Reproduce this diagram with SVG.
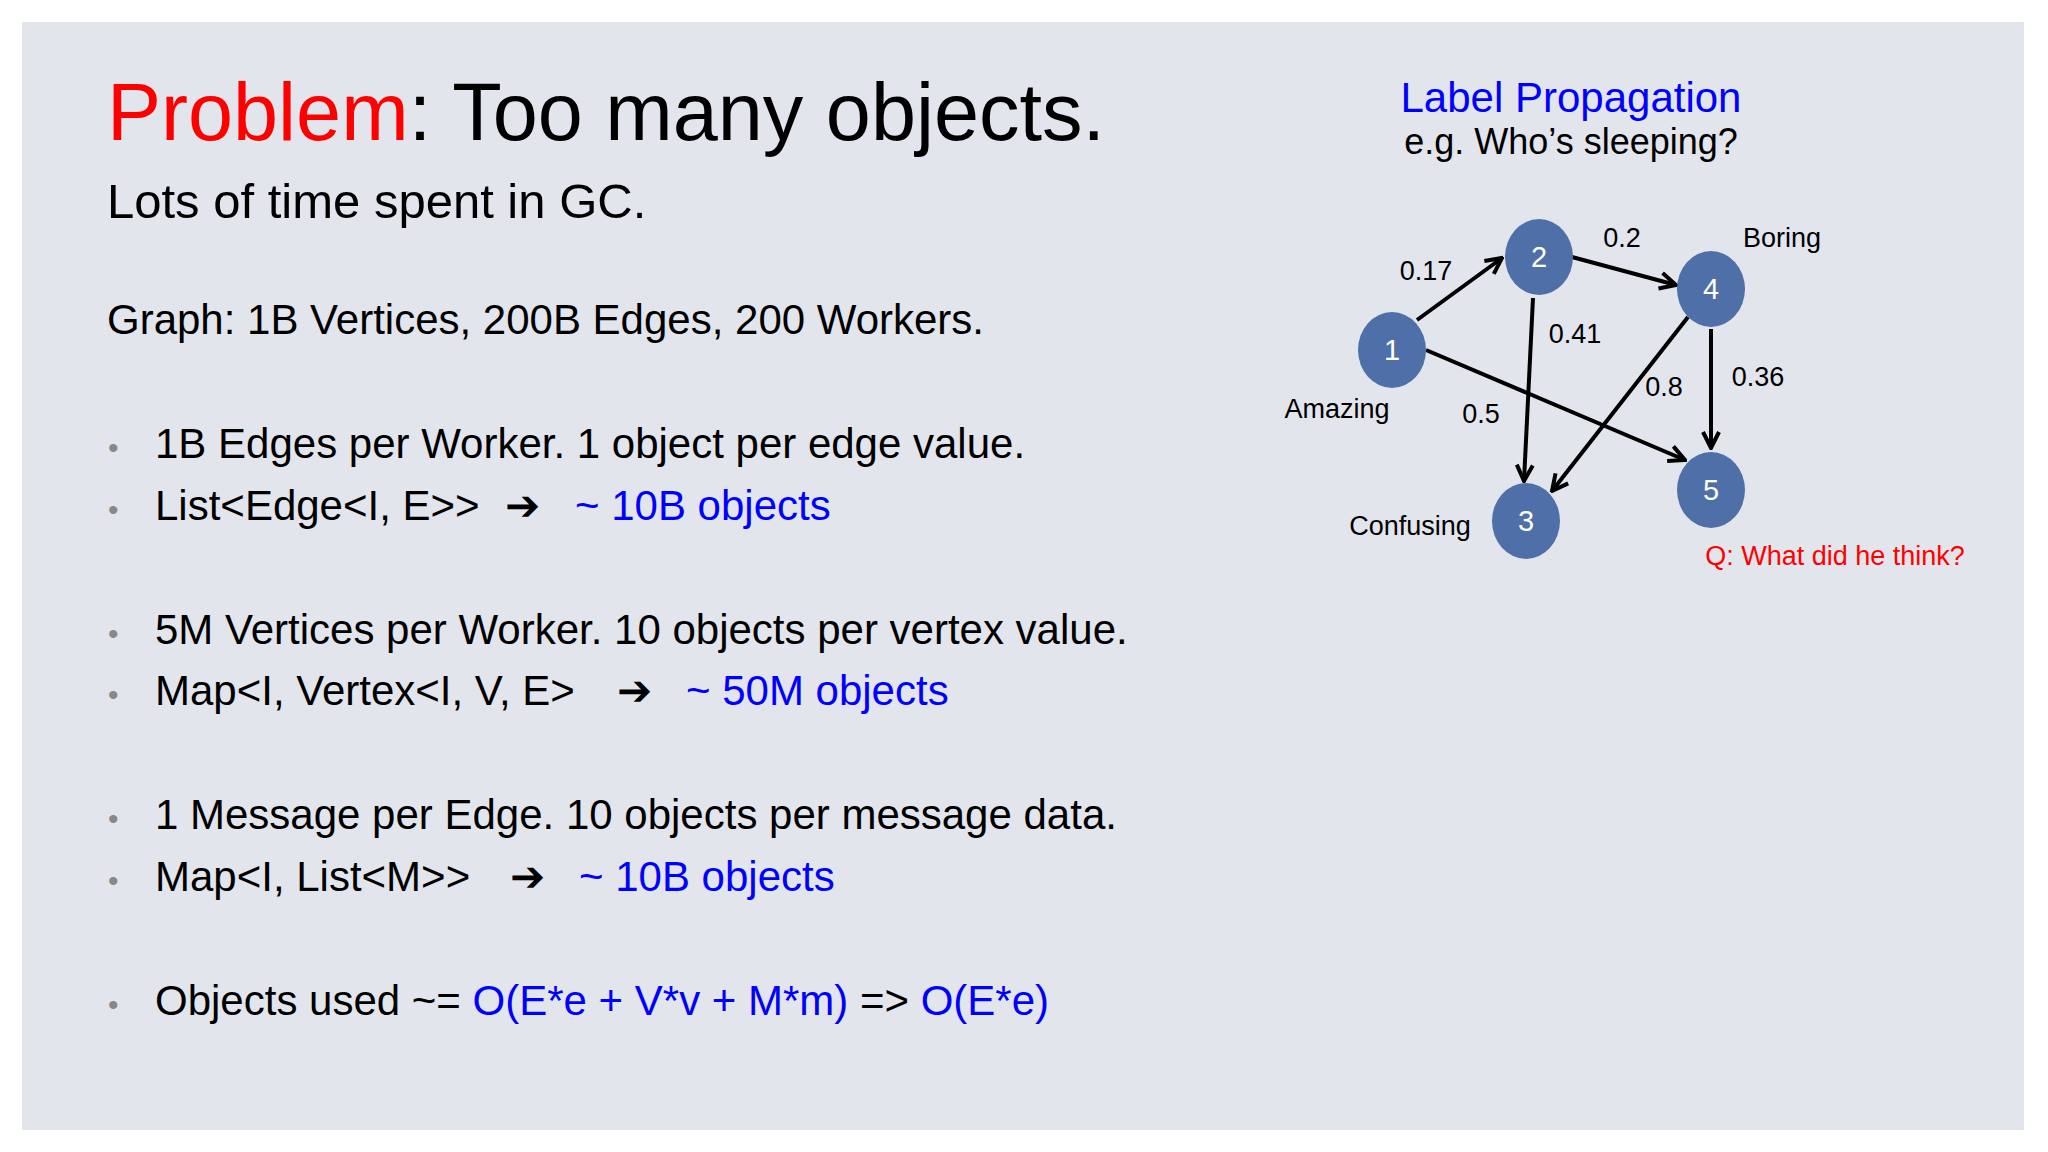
<svg xmlns="http://www.w3.org/2000/svg" width="2048" height="1152" viewBox="0 0 2048 1152">
<defs>
<style>
text{font-family:"Liberation Sans",Arial,sans-serif}
.t{font-size:42px;fill:#000}
.b{fill:#0000ff}
.dot{font-size:30px;fill:#888}
.n{fill:#4f6fa8}
.nt{font-size:29px;fill:#fff;text-anchor:middle}
.l{font-size:27px;fill:#000;text-anchor:middle}
.e{stroke:#000;stroke-width:4;fill:none;marker-end:url(#ah)}
</style>
<marker id="ah" viewBox="0 0 10 10" refX="9" refY="5" markerWidth="5" markerHeight="5" orient="auto" markerUnits="strokeWidth"><path d="M1,1 L9,5 L1,9" fill="none" stroke="#000" stroke-width="2"/></marker>
</defs>
<rect width="2048" height="1152" fill="#fff"/>
<rect x="22" y="22" width="2002" height="1108" fill="#e3e5ec"/>
<text x="107" y="140" font-size="81"><tspan fill="#ff0000">Problem</tspan>: Too many objects.</text>
<text x="107" y="218" font-size="49">Lots of time spent in GC.</text>
<text class="t" x="107" y="334">Graph: 1B Vertices, 200B Edges, 200 Workers.</text>
<g class="dot"><text x="108" y="458">•</text><text x="108" y="520">•</text><text x="108" y="644">•</text><text x="108" y="705">•</text><text x="108" y="829">•</text><text x="108" y="891">•</text><text x="108" y="1015">•</text></g>
<text class="t" x="155" y="458">1B Edges per Worker. 1 object per edge value.</text>
<text class="t" x="155" y="520">List&lt;Edge&lt;I, E&gt;&gt;</text><text class="t" x="505" y="520">➔</text><text class="t b" x="575" y="520">~ 10B objects</text>
<text class="t" x="155" y="644">5M Vertices per Worker. 10 objects per vertex value.</text>
<text class="t" x="155" y="705">Map&lt;I, Vertex&lt;I, V, E&gt;</text><text class="t" x="617" y="705">➔</text><text class="t b" x="686" y="705">~ 50M objects</text>
<text class="t" x="155" y="829">1 Message per Edge. 10 objects per message data.</text>
<text class="t" x="155" y="891">Map&lt;I, List&lt;M&gt;&gt;</text><text class="t" x="510" y="891">➔</text><text class="t b" x="579" y="891">~ 10B objects</text>
<text class="t" x="155" y="1015">Objects used ~= <tspan fill="#0000ff">O(E*e + V*v + M*m)</tspan> =&gt; <tspan fill="#0000ff">O(E*e)</tspan></text>
<text x="1571" y="112" font-size="42" fill="#0000ff" text-anchor="middle">Label Propagation</text>
<text x="1571" y="154" font-size="36" text-anchor="middle">e.g. Who’s sleeping?</text>
<g id="connectors">
<line class="e" x1="1417" y1="320" x2="1502" y2="258"/>
<line class="e" x1="1572" y1="257" x2="1676" y2="285"/>
<line class="e" x1="1533" y1="298" x2="1524" y2="481"/>
<line class="e" x1="1426" y1="350" x2="1685" y2="460"/>
<line class="e" x1="1688" y1="317" x2="1552" y2="491"/>
<line class="e" x1="1711" y1="329" x2="1711" y2="448"/>
</g>
<g id="n1"><ellipse class="n" cx="1392" cy="350" rx="34" ry="38"/><text class="nt" x="1392" y="360">1</text></g>
<g id="n2"><ellipse class="n" cx="1539" cy="257" rx="34" ry="38"/><text class="nt" x="1539" y="267">2</text></g>
<g id="n4"><ellipse class="n" cx="1711" cy="289" rx="34" ry="38"/><text class="nt" x="1711" y="299">4</text></g>
<g id="n5"><ellipse class="n" cx="1711" cy="490" rx="34" ry="38"/><text class="nt" x="1711" y="500">5</text></g>
<g id="n3"><ellipse class="n" cx="1526" cy="521" rx="34" ry="38"/><text class="nt" x="1526" y="531">3</text></g>
<g class="l">
<text x="1426" y="280">0.17</text><text x="1622" y="247">0.2</text><text x="1782" y="247">Boring</text>
<text x="1575" y="343">0.41</text><text x="1758" y="386">0.36</text><text x="1664" y="396">0.8</text>
<text x="1481" y="423">0.5</text><text x="1337" y="418">Amazing</text><text x="1410" y="535">Confusing</text>
<text x="1835" y="565" fill="#ff0000">Q: What did he think?</text>
</g>
</svg>
